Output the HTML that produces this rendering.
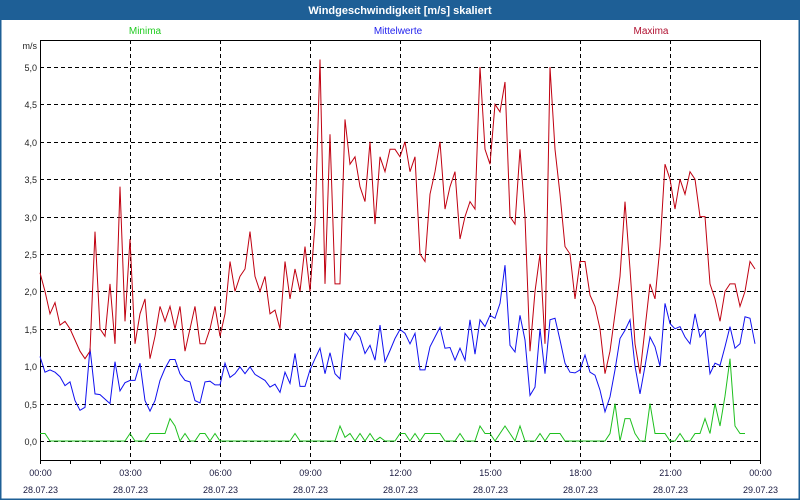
<!DOCTYPE html>
<html><head><meta charset="utf-8"><style>
html,body{margin:0;padding:0;background:#fff;}
#wrap{position:relative;width:800px;height:500px;overflow:hidden;font-family:"Liberation Sans",sans-serif;}
</style></head><body>
<div id="wrap">
<svg id="chart" width="800" height="500" xmlns="http://www.w3.org/2000/svg">
<rect x="0" y="0" width="800" height="500" fill="#fff"/>
<rect x="0.5" y="0.5" width="799" height="499" fill="none" stroke="#1e5f96" stroke-width="2"/>
<rect x="0" y="0" width="800" height="20" fill="#1e5f96"/>
<text x="400" y="14" text-anchor="middle" font-size="11" font-weight="bold" fill="#fff">Windgeschwindigkeit [m/s] skaliert</text>
<text x="145" y="34" text-anchor="middle" font-size="10" fill="#22cc22">Minima</text>
<text x="398" y="34" text-anchor="middle" font-size="10" fill="#2222ee">Mittelwerte</text>
<text x="651" y="34" text-anchor="middle" font-size="10" fill="#b01030">Maxima</text>
<text x="37" y="49" text-anchor="end" font-size="9" fill="#222">m/s</text>
<g id="grid"></g>
<g id="axes"></g>
<g id="series"></g>
</svg>
</div>
<script>
const yTicks=[0,0.5,1,1.5,2,2.5,3,3.5,4,4.5,5];
const yTickLabels=["0,0","0,5","1,0","1,5","2,0","2,5","3,0","3,5","4,0","4,5","5,0"];
const xTickHours=[0,3,6,9,12,15,18,21,24];
const xTimeLabels=["00:00","03:00","06:00","09:00","12:00","15:00","18:00","21:00","00:00"];
const xDateLabels=["28.07.23","28.07.23","28.07.23","28.07.23","28.07.23","28.07.23","28.07.23","28.07.23","29.07.23"];
// 10-minute samples starting 00:00
const maxima=[2.25,2.0,1.7,1.85,1.55,1.6,1.5,1.35,1.2,1.1,1.2,2.8,1.5,1.4,2.1,1.3,3.4,1.6,2.7,1.3,1.7,1.9,1.1,1.4,1.8,1.6,1.8,1.5,1.8,1.2,1.5,1.8,1.3,1.3,1.5,1.8,1.4,1.7,2.4,2.0,2.2,2.3,2.8,2.2,2.0,2.2,1.7,1.75,1.5,2.4,1.9,2.3,2.0,2.6,2.0,2.9,5.1,2.1,4.1,2.1,2.1,4.3,3.7,3.8,3.4,3.2,4.0,2.9,3.8,3.6,3.9,3.9,3.8,4.0,3.6,3.8,2.5,2.4,3.3,3.6,4.0,3.1,3.4,3.6,2.7,3.0,3.2,3.1,5.0,3.9,3.7,4.5,4.4,4.8,3.0,2.9,3.9,3.0,1.2,2.0,2.5,1.3,5.0,3.9,3.3,2.6,2.5,1.9,2.4,2.4,1.95,1.8,1.5,0.9,1.2,1.7,2.2,3.2,2.3,1.3,0.9,1.5,2.1,1.9,2.6,3.7,3.5,3.1,3.5,3.3,3.6,3.5,3.0,3.0,2.1,1.9,1.6,2.0,2.1,2.1,1.8,2.0,2.4,2.3];
const mittel=[1.13,0.92,0.95,0.92,0.86,0.74,0.79,0.54,0.41,0.45,1.24,0.63,0.62,0.56,0.5,1.06,0.67,0.78,0.81,0.81,1.04,0.54,0.4,0.54,0.81,0.97,1.09,1.09,0.9,0.81,0.79,0.54,0.51,0.79,0.8,0.75,0.75,1.04,0.85,0.9,0.99,0.9,0.99,0.89,0.85,0.81,0.72,0.76,0.65,0.92,0.77,1.17,0.73,0.73,0.95,1.1,1.24,0.9,1.18,0.9,0.83,1.44,1.35,1.48,1.39,1.17,1.28,1.08,1.55,1.06,1.21,1.37,1.49,1.44,1.3,1.44,0.95,0.95,1.26,1.39,1.52,1.24,1.25,1.08,1.24,1.08,1.62,1.16,1.62,1.53,1.68,1.64,1.84,2.35,1.28,1.19,1.68,1.35,0.61,0.72,1.5,0.9,1.62,1.64,1.35,1.04,0.92,0.91,0.95,1.15,0.92,0.88,0.68,0.39,0.59,0.95,1.37,1.48,1.62,1.0,0.63,1.0,1.39,1.26,1.0,1.84,1.57,1.5,1.53,1.39,1.3,1.7,1.39,1.48,0.9,1.04,1.01,1.26,1.53,1.24,1.3,1.66,1.64,1.3];
const minima=[0.1,0.1,0,0,0,0,0,0,0,0,0,0,0,0,0,0,0,0,0.1,0,0,0,0.1,0.1,0.1,0.1,0.3,0.2,0,0.1,0,0,0.1,0.1,0,0.1,0,0,0,0,0,0,0,0,0,0,0,0,0,0,0,0.1,0,0,0,0,0,0,0,0,0.2,0.05,0.1,0,0.1,0,0.1,0,0.05,0,0,0,0.1,0.1,0,0.1,0,0.1,0.1,0.1,0.1,0,0,0,0.1,0,0,0,0.2,0.1,0.1,0,0.1,0.2,0.1,0,0.2,0,0,0,0.1,0,0.1,0.1,0.1,0,0,0,0,0,0,0,0,0,0.1,0.5,0,0.3,0.3,0.1,0,0,0.5,0.1,0.1,0.1,0,0,0.1,0,0,0.1,0.1,0.3,0.1,0.5,0.2,0.6,1.1,0.2,0.1,0.1];
const NS="http://www.w3.org/2000/svg";
const X0=40,X1=760,Y0=441,YTOP=67;
function xScale(h){return X0+(X1-X0)*h/24;}
function yScale(v){return Y0-(Y0-YTOP)*v/5;}
function mk(tag,attrs,parent){const e=document.createElementNS(NS,tag);for(const k in attrs)e.setAttribute(k,attrs[k]);parent.appendChild(e);return e;}
const grid=document.getElementById('grid'),axes=document.getElementById('axes'),series=document.getElementById('series');
yTicks.forEach((v,i)=>{
  const y=Math.round(yScale(v))+0.5;
  const l=mk('line',{x1:X0,x2:X1,y1:y,y2:y,stroke:'#000','stroke-dasharray':'4,3','stroke-width':1},grid);
  
  
  const t=mk('text',{x:37,y:y+3.5,'text-anchor':'end','font-size':9,fill:'#222'},axes);
  t.textContent=yTickLabels[i];
  
  
});
xTickHours.forEach((h,i)=>{
  const x=Math.round(xScale(h))+0.5;
  if(i>0&&i<xTickHours.length-1){
    const l=mk('line',{x1:x,x2:x,y1:40,y2:460,stroke:'#000','stroke-dasharray':'4,3','stroke-width':1},grid);
    
    
  }
  const t=mk('text',{x:x,y:476,'text-anchor':'middle','font-size':9,fill:'#1a1a40'},axes);
  t.textContent=xTimeLabels[i];
  
  
  const d=mk('text',{x:x,y:493,'text-anchor':'middle','font-size':9,fill:'#1a1a40'},axes);
  d.textContent=xDateLabels[i];
  
  
});
for(let h=0;h<=24;h++){
  const x=Math.round(xScale(h))+0.5;
  const tk=mk('line',{x1:x,x2:x,y1:460,y2:464,stroke:'#000'},axes);
  
  
}
const frame=mk('path',{d:'M40.5,40.5 H760.5 V460.5 H40.5 Z',fill:'none',stroke:'#000','stroke-width':1},axes);


function drawSeries(arr,color,name){
  const pts=arr.map((v,i)=>xScale(i/6).toFixed(1)+','+yScale(v).toFixed(1)).join(' ');
  const p=mk('polyline',{points:pts,fill:'none',stroke:color,'stroke-width':1},series);
  
  
}
drawSeries(minima,'#1ec01e','minima-line');
drawSeries(mittel,'#1010f0','mittelwerte-line');
drawSeries(maxima,'#c00010','maxima-line');
</script>
</body></html>
